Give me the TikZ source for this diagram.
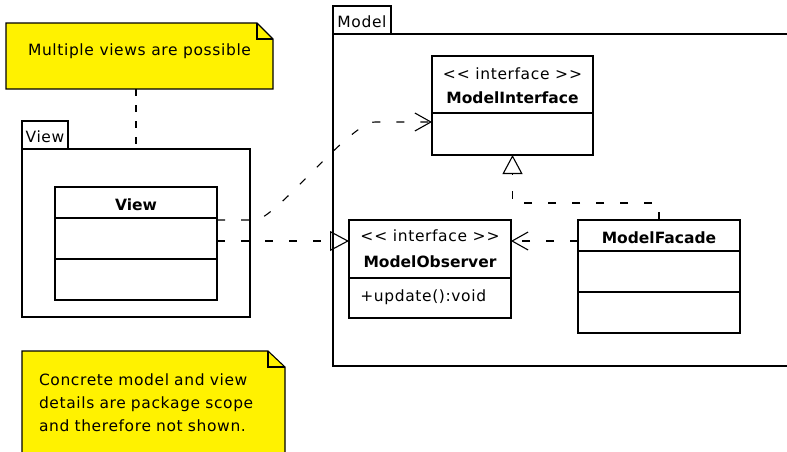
\documentclass[tikz,border=0pt]{standalone}
\usepackage{fontspec}
\setmainfont{DejaVu Sans}[LetterSpace=4, BoldFeatures={LetterSpace=0}]
\usetikzlibrary{arrows.meta,positioning,backgrounds}

\begin{document}
\begin{tikzpicture}[
    x=1pt, y=-1pt,
    line width=1.1pt,
    every node/.style={outer sep=0pt, font=\fontsize{15.5}{23}\selectfont},
    pkgbody/.style={draw, anchor=north west, inner sep=0pt},
    pkgtab/.style={draw, anchor=south west, inner sep=0pt, minimum height=28pt, text height=15pt, text depth=0pt},
    classbox/.style={draw, anchor=north west, minimum width=162pt, inner sep=0pt},
    stereo/.style={anchor=base},
    cname/.style={anchor=base, font=\fontsize{15.5}{23}\selectfont\bfseries},
    member/.style={anchor=base west},
    notebox/.style={anchor=north west, inner sep=0pt},
    notefill/.style={fill=yellow, draw=black, line width=1.1pt},
    notelink/.style={dash pattern=on 7pt off 9pt},
    depend/.style={dash pattern=on 8pt off 16pt, -{Straight Barb[length=16pt, width=18pt]}},
    realize/.style={dash pattern=on 8pt off 16pt, -{Triangle[open, length=19pt, width=20pt]}}
]
    \useasboundingbox (0,0) rectangle (787,451);

    % Notes
    \node [notebox, minimum width=267pt, minimum height=66pt, text height=11pt, text depth=12pt] (tip) at (6,23) {Multiple views are possible};
    \node [notebox, text width=229pt, align=left, inner xsep=17pt, inner ysep=23pt] (remark) at (22,351)
        {Concrete model and view\\details are package scope\\and therefore not shown.};

    \begin{scope}[on background layer]
        \filldraw [notefill] (tip.north west) -- ([xshift=-16pt]tip.north east) -- ([yshift=-16pt]tip.north east)
            -- (tip.south east) -- (tip.south west) -- cycle;
        \draw [line width=1.1pt] ([xshift=-16pt]tip.north east) |- ([yshift=-16pt]tip.north east);
        \filldraw [notefill] (remark.north west) -- ([xshift=-17pt]remark.north east) -- ([yshift=-16pt]remark.north east)
            -- (remark.south east) -- (remark.south west) -- cycle;
        \draw [line width=1.1pt] ([xshift=-17pt]remark.north east) |- ([yshift=-16pt]remark.north east);
    \end{scope}

    % Packages
    \node [pkgbody, minimum width=228pt, minimum height=168pt] (viewpkg) at (22,149) {};
    \node [pkgtab, minimum width=46pt] (viewtab) at (viewpkg.north west) {View};
    \node [pkgbody, minimum width=480pt, minimum height=332pt] (modelpkg) at (333,34) {};
    \node [pkgtab, minimum width=58pt] (modeltab) at (modelpkg.north west) {Model};

    % Classes
    \node [classbox, minimum height=113pt] (view) at (55,187) {};
    \node [cname] (viewname) at ([yshift=-23pt]view.north) {View};
    \draw ([yshift=-31pt]view.north west) -- ([yshift=-31pt]view.north east);
    \draw ([yshift=-72pt]view.north west) -- ([yshift=-72pt]view.north east);

    \node [classbox, minimum width=161pt, minimum height=99pt] (iface) at (432,56) {};
    \node [stereo] (ifacest) at ([yshift=-23pt]iface.north) {<\kern1pt< interface >\kern1pt>};
    \node [cname] (ifacename) at ([yshift=-47pt]iface.north) {ModelInterface};
    \draw ([yshift=-57pt]iface.north west) -- ([yshift=-57pt]iface.north east);

    \node [classbox, minimum height=98pt] (observer) at (349,220) {};
    \node [stereo] (observerst) at ([yshift=-21.5pt]observer.north) {<\kern1pt< interface >\kern1pt>};
    \node [cname] (observername) at ([yshift=-47.5pt]observer.north) {ModelObserver};
    \draw ([yshift=-58pt]observer.north west) -- ([yshift=-58pt]observer.north east);
    \node [member] (update) at ([xshift=8pt, yshift=-81.5pt]observer.north west) {+update():void};

    \node [classbox, minimum height=113pt] (facade) at (578,220) {};
    \node [cname] (facadename) at ([yshift=-23pt]facade.north) {ModelFacade};
    \draw ([yshift=-31pt]facade.north west) -- ([yshift=-31pt]facade.north east);
    \draw ([yshift=-72pt]facade.north west) -- ([yshift=-72pt]facade.north east);

    % Connections
    \coordinate (obsin) at ([yshift=-21pt]observer.north west);

    \draw [notelink] (tip.south -| viewpkg.north) -- (viewpkg.north);
    \draw [depend] ([yshift=-33pt]view.north east) -- ++(38,0) .. controls +(20,0) and +(-25,0) .. ++(120,-98)
        -- ([yshift=-66pt]iface.north west);
    \draw [realize] (view.east |- obsin) -- (obsin);
    \draw [depend] (facade.west |- obsin) -- (observer.east |- obsin);
    \draw [realize] (facade.north) -- ++(0,-17) -| (iface.south);

\end{tikzpicture}
\end{document}
